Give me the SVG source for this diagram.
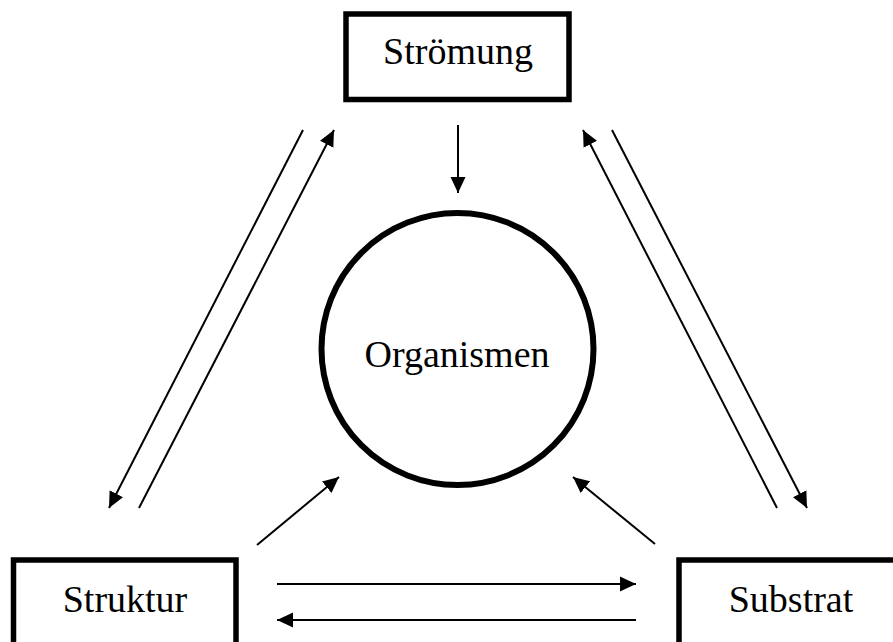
<svg xmlns="http://www.w3.org/2000/svg" width="893" height="642" viewBox="0 0 893 642">
  <style>
    .box { fill: #ffffff; stroke: #000000; stroke-width: 5.5; }
    .lbl { font-family: "Liberation Serif", "Times New Roman", serif; font-size: 38px; fill: #000000; text-anchor: middle; }
    .conn { stroke: #000000; stroke-width: 2; fill: none; }
    .arr { marker-end: url(#ah); }
  </style>
  <defs>
    <marker id="ah" markerUnits="userSpaceOnUse" markerWidth="17" markerHeight="16" refX="16" refY="8" orient="auto">
      <path d="M0,0.5 L16,8 L0,15.5 z" fill="#000000"/>
    </marker>
  </defs>
  <rect x="0" y="0" width="893" height="642" fill="#ffffff"/>

  <g id="node-stroemung">
    <rect class="box" x="346" y="14" width="223" height="85.5"/>
    <text class="lbl" x="458" y="64">Strömung</text>
  </g>

  <g id="node-organismen">
    <circle cx="457.5" cy="349" r="136" fill="#ffffff" stroke="#000000" stroke-width="6"/>
    <text class="lbl" x="457" y="367">Organismen</text>
  </g>

  <g id="node-struktur">
    <rect class="box" x="13.5" y="560" width="222.5" height="100"/>
    <text class="lbl" x="125" y="612">Struktur</text>
  </g>

  <g id="node-substrat">
    <rect class="box" x="679" y="560" width="230" height="100"/>
    <text class="lbl" x="791" y="612">Substrat</text>
  </g>

  <g id="connectors">
    <!-- Strömung -> Organismen -->
    <line class="conn arr" x1="458" y1="125" x2="458" y2="193"/>
    <!-- Strömung <-> Struktur -->
    <line class="conn arr" x1="303" y1="130" x2="109" y2="508"/>
    <line class="conn arr" x1="139" y1="508" x2="334" y2="130"/>
    <!-- Strömung <-> Substrat -->
    <line class="conn arr" x1="777" y1="508" x2="583" y2="130"/>
    <line class="conn arr" x1="612" y1="130" x2="807" y2="508"/>
    <!-- Struktur -> Organismen, Substrat -> Organismen -->
    <line class="conn arr" x1="257" y1="545" x2="339" y2="477"/>
    <line class="conn arr" x1="655" y1="544" x2="573" y2="477"/>
    <!-- Struktur <-> Substrat -->
    <line class="conn arr" x1="277" y1="584" x2="636" y2="584"/>
    <line class="conn arr" x1="636" y1="620" x2="277" y2="620"/>
  </g>
</svg>
